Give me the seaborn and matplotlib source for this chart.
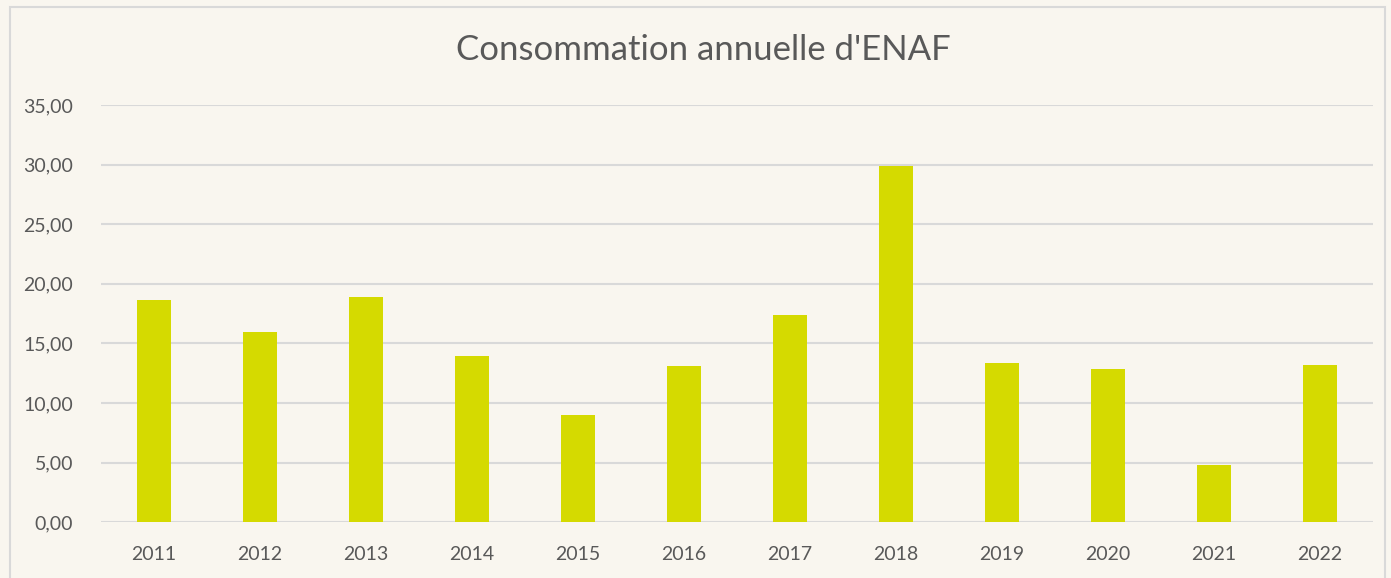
import matplotlib
matplotlib.use("Agg")
import matplotlib.pyplot as plt
import seaborn as sns
import pandas as pd
from matplotlib.patches import Rectangle

years = ["2011", "2012", "2013", "2014", "2015", "2016", "2017", "2018", "2019", "2020", "2021", "2022"]
values = [18.62, 15.96, 18.93, 13.95, 8.98, 13.11, 17.39, 29.92, 13.34, 12.83, 4.78, 13.22]
yticks = [0, 5, 10, 15, 20, 25, 30, 35]
title = "Consommation annuelle d'ENAF"

df = pd.DataFrame({"year": years, "value": values})

sns.set_theme(style="white")
plt.rcParams["font.family"] = ["Lato", "DejaVu Sans"]

bg = "#F9F6EF"
txt = "#595959"
fig = plt.figure(figsize=(13.91, 5.78), dpi=100, facecolor=bg)
W, H = 1391, 578
ax = fig.add_axes([101 / W, (H - 522.3) / H, (1373 - 101) / W, (522.3 - 105) / H])
ax.set_facecolor(bg)

sns.barplot(data=df, x="year", y="value", color="#D5DA00", saturation=1, width=0.315,
            linewidth=0, ax=ax, zorder=3)

ax.set_ylim(0, 35)
ax.set_xlim(-0.5, len(years) - 0.5)
ax.set_yticks(yticks)
ax.set_yticklabels([f"{v:.2f}".replace(".", ",") for v in yticks])
ax.yaxis.grid(True, color="#D9D9D9", linewidth=1.5, zorder=0)
ax.set_axisbelow(True)
for s in ax.spines.values():
    s.set_visible(False)
ax.set_xlabel("")
ax.set_ylabel("")
ax.tick_params(axis="both", length=0, labelsize=14, labelcolor=txt)
ax.tick_params(axis="y", pad=20)
ax.tick_params(axis="x", pad=17)

fig.text(703 / W, 1 - 50 / H, title, ha="center", va="center", fontsize=25, color=txt)

fig.patches.append(Rectangle((10 / W, -0.01), (1385 - 10) / W, (H - 7) / H + 0.01, transform=fig.transFigure,
                             fill=False, edgecolor="#D9D9D9", linewidth=1.5))

fig.savefig("out.png", dpi=100, facecolor=bg)
